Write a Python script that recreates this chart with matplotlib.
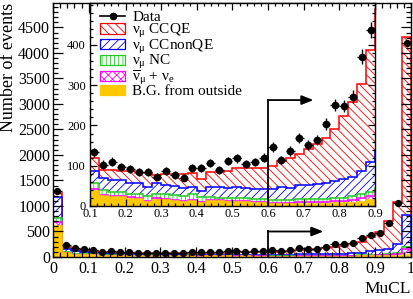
import numpy as np
import matplotlib
matplotlib.use('Agg')
import matplotlib.pyplot as plt
from matplotlib.patches import Patch
from matplotlib.lines import Line2D
from matplotlib.ticker import MultipleLocator, FuncFormatter

plt.rcParams['font.family'] = ['Liberation Serif', 'DejaVu Serif']
plt.rcParams['mathtext.fontset'] = 'custom'
plt.rcParams['mathtext.rm'] = 'Liberation Serif'
plt.rcParams['mathtext.it'] = 'Liberation Serif'
plt.rcParams['hatch.linewidth'] = 0.6

# MuCL, 40 bins from 0 to 1
edges = np.linspace(0, 1, 41)

data = [1290, 234, 170, 150,
        133, 103, 110, 98, 92, 84, 84, 73, 87, 77, 70, 95, 95, 106, 89, 112,
        118, 105, 109, 120, 146, 114, 137, 169, 151, 163, 203, 251, 248, 271, 371, 437,
        476, 660, 1065, 4190]

# tops of the stacked MC (cumulative, from the top layer down)
top_ccqe = [1256, 200, 150, 130,
            118, 90, 90, 86, 86, 82, 82, 76, 80, 80, 80, 82, 68, 84, 84, 86,
            94, 94, 95, 95, 100, 112, 118, 130, 142, 154, 169, 192, 224, 259, 303, 387,
            490, 700, 1080, 4320]
top_ccnonqe = [1178, 163, 110, 95,
               87, 69, 64, 64, 58, 58, 46, 56, 52, 50, 44, 46, 38, 46, 46, 44,
               46, 44, 42, 41, 41, 46, 45, 52, 53, 55, 58, 62, 66, 72, 86, 110,
               140, 160, 250, 820]
top_nc = [768, 104, 60, 50,
          58, 40, 35, 35, 29, 29, 24, 31, 29, 27, 26, 31, 22, 22, 20, 19,
          19, 20, 17, 17, 15, 15, 14, 17, 17, 17, 17, 20, 20, 24, 30, 34,
          45, 55, 80, 200]
top_nubar = [690, 80, 45, 40,
             42, 28, 26, 25, 22, 21, 13, 19, 17, 16, 13, 15, 11, 15, 15, 13,
             12, 13, 11, 10, 8, 8, 7, 10, 10, 10, 10, 12, 12, 16, 20, 26,
             35, 40, 60, 150]
top_bg = [605, 70, 40, 35,
          38, 24, 22, 22, 18, 18, 10, 16, 14, 13, 10, 12, 8, 12, 12, 10,
          9, 10, 8, 7, 5, 4, 4, 5, 5, 5, 5, 7, 7, 8, 10, 15,
          15, 15, 20, 30]

labels = ['Data', r'$\nu_{\mu}$ CCQE', r'$\nu_{\mu}$ CCnonQE', r'$\nu_{\mu}$ NC',
          r'$\overline{\nu}_{\mu}$ + $\nu_{e}$', 'B.G. from outside']

cut = 0.6
arrow_main = (0.755, 500)
arrow_inset = (0.727, 263)

layers = [
    (top_ccqe, '#ff0000', '\\\\\\\\', 'white'),
    (top_ccnonqe, '#0000ff', '////', 'white'),
    (top_nc, '#22cc22', '||||', 'white'),
    (top_nubar, '#ff00ff', 'xxxx', 'white'),
    (top_bg, '#ffc800', None, '#ffc800'),
]

centers = 0.5 * (edges[1:] + edges[:-1])
halfw = 0.5 * (edges[1] - edges[0])
data = np.array(data, dtype=float)


def draw(a, msize):
    for top, col, hatch, face in layers:
        a.stairs(top, edges, baseline=0, fill=True, facecolor=face,
                 edgecolor=col, hatch=hatch, linewidth=0)
        a.stairs(top, edges, baseline=0, color=col, lw=1.1)
    a.errorbar(centers, data, xerr=halfw, yerr=np.sqrt(data), fmt='o', color='k',
               ms=msize, elinewidth=1.0, capsize=0)


fig = plt.figure(figsize=(4.14, 2.99), dpi=100)
ax = fig.add_axes([53 / 414, 1 - 257 / 299, 358 / 414, 254 / 299])
draw(ax, 4.2)
ax.plot([cut, cut], [0, arrow_main[1]], color='k', lw=1.3)
ax.annotate('', xy=arrow_main, xytext=(cut, arrow_main[1]),
            arrowprops=dict(arrowstyle='-|>,head_length=0.7,head_width=0.28',
                            color='k', lw=1.3, shrinkA=0, shrinkB=0))
ax.set_xlim(0, 1)
ax.set_ylim(0, 4980)
ax.xaxis.set_major_locator(MultipleLocator(0.1))
ax.xaxis.set_minor_locator(MultipleLocator(0.02))
ax.yaxis.set_major_locator(MultipleLocator(500))
ax.yaxis.set_minor_locator(MultipleLocator(100))
ax.xaxis.set_major_formatter(FuncFormatter(lambda v, p: f'{v:g}'))
ax.tick_params(which='both', direction='in', top=True, right=True, labelsize=11.5)
ax.tick_params(which='major', length=7, width=0.9)
ax.tick_params(which='minor', length=3.5, width=0.9)
ax.tick_params(axis='x', pad=3)
ax.tick_params(axis='y', pad=2)
for s in ax.spines.values():
    s.set_linewidth(1.0)
ax.set_ylabel('Number of events', fontsize=13, loc='top')
ax.yaxis.set_label_coords(-0.1, 1.0)
ax.set_xlabel('MuCL', fontsize=12.5, loc='right')
ax.xaxis.set_label_coords(1.0, -0.095)

ins = fig.add_axes([90 / 414, 1 - 206 / 299, 285 / 414, 203 / 299])
draw(ins, 4.5)
ins.plot([cut, cut], [0, arrow_inset[1]], color='k', lw=1.3)
ins.annotate('', xy=arrow_inset, xytext=(cut, arrow_inset[1]),
             arrowprops=dict(arrowstyle='-|>,head_length=0.7,head_width=0.28',
                             color='k', lw=1.3, shrinkA=0, shrinkB=0))
ins.set_xlim(0.1, 0.9)
ins.set_ylim(0, 504)
ins.set_yticks([0, 100, 200, 300, 400])
ins.xaxis.set_major_locator(MultipleLocator(0.1))
ins.xaxis.set_minor_locator(MultipleLocator(0.02))
ins.yaxis.set_minor_locator(MultipleLocator(20))
ins.xaxis.set_major_formatter(FuncFormatter(lambda v, p: f'{v:g}'))
ins.tick_params(which='both', direction='in', top=True, right=True, labelsize=9)
ins.tick_params(which='major', length=5, width=0.9)
ins.tick_params(which='minor', length=2.5, width=0.9)
ins.tick_params(axis='x', pad=1.5)
ins.tick_params(axis='y', pad=3)
for s in ins.spines.values():
    s.set_linewidth(1.0)

handles = [Line2D([], [], color='k', marker='o', ms=4.5, lw=1.2)]
for top, col, hatch, face in layers:
    handles.append(Patch(facecolor=face, edgecolor=col, hatch=hatch, lw=0.9))
ins.legend(handles, labels, loc='upper left', bbox_to_anchor=(100 / 414, 1 - 11 / 299),
           bbox_transform=fig.transFigure, frameon=False, fontsize=11,
           handlelength=1.65, handleheight=0.65, labelspacing=-0.16,
           handletextpad=0.45, borderpad=0, borderaxespad=0)

fig.savefig('out.png', dpi=100)
